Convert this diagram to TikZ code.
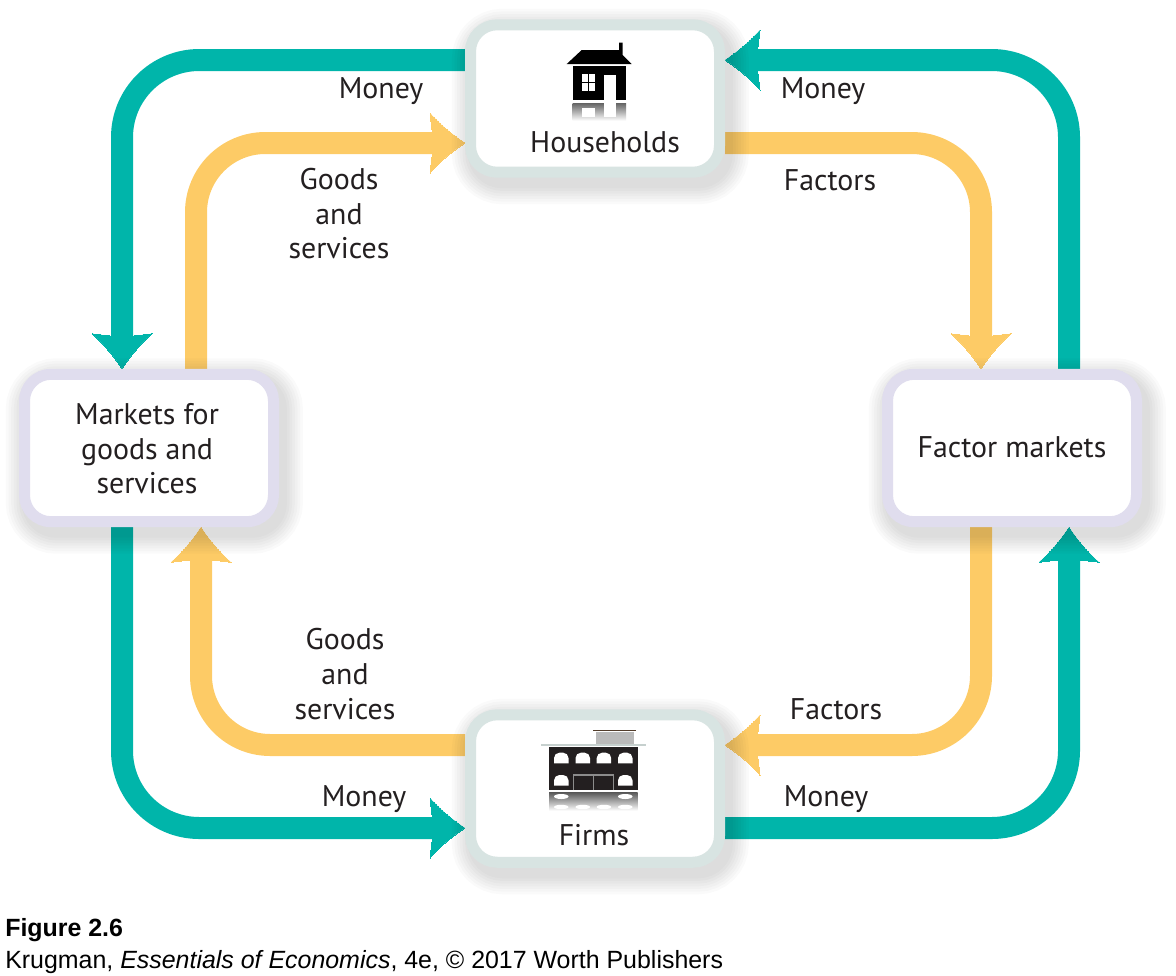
\documentclass[tikz,border=0pt]{standalone}
\usepackage{fontspec}
\setmainfont{PT Sans}
\newfontfamily\captionfont{Liberation Sans}
\usetikzlibrary{backgrounds,shadows,arrows.meta}

\definecolor{flowteal}{HTML}{00B5AA}
\definecolor{flowyellow}{HTML}{FDCB66}
\definecolor{boxgreen}{HTML}{D8E4E2}
\definecolor{boxlilac}{HTML}{E0DDEE}
\definecolor{inkblack}{HTML}{231F20}

\pgfdeclarearrow{
  name=Flowhead,
  setup code={
    \pgfarrowssettipend{0pt}
    \pgfarrowssetbackend{-26.25pt}
    \pgfarrowssetlineend{-20pt}
    \pgfarrowssetvisualbackend{-20pt}
    \pgfarrowshullpoint{0pt}{0pt}
    \pgfarrowshullpoint{-26.25pt}{22.5pt}
    \pgfarrowshullpoint{-26.25pt}{-22.5pt}
  },
  drawing code={
    \pgfsetlinewidth{0pt}
    \pgfpathmoveto{\pgfpoint{0pt}{0pt}}
    \pgfpathcurveto{\pgfpoint{-8.5pt}{5.5pt}}{\pgfpoint{-18.5pt}{13.5pt}}{\pgfpoint{-26.25pt}{22.5pt}}
    \pgfpathlineto{\pgfpoint{-24.5pt}{8.25pt}}
    \pgfpathlineto{\pgfpoint{-21pt}{0pt}}
    \pgfpathlineto{\pgfpoint{-24.5pt}{-8.25pt}}
    \pgfpathlineto{\pgfpoint{-26.25pt}{-22.5pt}}
    \pgfpathcurveto{\pgfpoint{-18.5pt}{-13.5pt}}{\pgfpoint{-8.5pt}{-5.5pt}}{\pgfpoint{0pt}{0pt}}
    \pgfpathclose
    \pgfusepathqfillstroke
  },
}

\tikzset{
  softlayer/.style={general shadow={draw=black,fill=none,opacity=0.02,line width=#1,shadow xshift=4pt,shadow yshift=-6pt}},
  marketbox/.style={
    softlayer=36pt,softlayer=32pt,softlayer=28pt,softlayer=24pt,softlayer=20pt,softlayer=16pt,softlayer=12pt,
    rectangle,rounded corners=20pt,draw=#1,fill=white,line width=8.25pt,
    minimum width=186.75pt,minimum height=110.6pt,text=inkblack,
    align=center,inner sep=0pt},
  flowlabel/.style={text=inkblack,align=center,inner sep=0pt,font=\fontsize{22.4}{25.9}\selectfont},
  moneyflow/.style={draw=flowteal,line width=16.5pt,rounded corners=58pt,-{Flowhead}},
  goodsflow/.style={draw=flowyellow,line width=16.5pt,rounded corners=52pt,-{Flowhead}},
  captionline/.style={anchor=base west,inner sep=0pt,text=black,font=\captionfont\fontsize{18.7}{20}\selectfont},
}

\begin{document}
\begin{tikzpicture}[x=0.75pt,y=-0.75pt]
    \useasboundingbox (0,0) rectangle (1176,975);

    % boxes
    \node[marketbox=boxgreen] (households) at (595,98.5) {};
    \node[marketbox=boxgreen] (firms) at (595,788.5) {};
    \node[marketbox=boxlilac] (goodsmarket) at (149,448) {};
    \node[marketbox=boxlilac] (factormarket) at (1012,448) {};

    % flows go under the boxes and their shadows
    \begin{scope}[on background layer]
        \draw[moneyflow] (households.west |- 0,60) -- (122,60) -- (goodsmarket.north -| 122,0);
        \draw[moneyflow] (goodsmarket.south -| 122,0) -- (122,828) -- (firms.west |- 0,828);
        \draw[moneyflow] (firms.east |- 0,828) -- (1069,828) -- (factormarket.south -| 1069,0);
        \draw[moneyflow] (factormarket.north -| 1069,0) -- (1069,60) -- (households.east |- 0,60);
        \draw[goodsflow] (goodsmarket.north -| 196,0) -- (196,143) -- (households.west |- 0,143);
        \draw[goodsflow] (firms.west |- 0,745) -- (201,745) -- (goodsmarket.south -| 201,0);
        \draw[goodsflow] (households.east |- 0,143) -- (981,143) -- (factormarket.north -| 981,0);
        \draw[goodsflow] (factormarket.south -| 981,0) -- (981,745) -- (firms.east |- 0,745);
    \end{scope}

    % box texts
    \node[flowlabel] (hhname) at (605,142) {Households};
    \node[flowlabel] (firmname) at (594,835) {Firms};
    \node[flowlabel] (goodsname) at (147,449) {Markets for\\goods and\\services};
    \node[flowlabel] (factorname) at (1012,447) {Factor markets};

    % flow labels
    \node[flowlabel] (moneya) at (381,91) {Money};
    \node[flowlabel] (moneyb) at (823,91) {Money};
    \node[flowlabel] (moneyc) at (364,799) {Money};
    \node[flowlabel] (moneyd) at (826,799) {Money};
    \node[flowlabel] (factorsa) at (830,180) {Factors};
    \node[flowlabel] (factorsb) at (836,709) {Factors};
    \node[flowlabel] (goodsa) at (339,214) {Goods\\and\\services};
    \node[flowlabel] (goodsb) at (345,674) {Goods\\and\\services};

    % house
    \fill[black] (566.7,64) -- (581.7,50) -- (619,50) -- (619,42.7) -- (622.7,42.7) -- (622.7,55) -- (631.7,64) -- cycle;
    \fill[black] (572.7,66) rectangle (626,100);
    \fill[white] (582.3,74) rectangle (595,90.7);
    \fill[black] (588,74) rectangle (589.3,90.7);
    \fill[black] (582.3,81.7) rectangle (595,83);
    \fill[white] (604,75) rectangle (616,100);
    \shade[top color=black!60,bottom color=white] (572.7,103.3) rectangle (626,120.7);
    \fill[white] (582.3,108) rectangle (595,116.7);
    \fill[white] (604,103.3) rectangle (616,116.7);

    % firm
    \draw[inkblack!70!brown,line width=0.8pt] (593,730.7) -- (636,730.7);
    \fill[black!27] (595.7,731.7) rectangle (634,744);
    \fill[boxgreen!80!gray] (540.7,743.5) rectangle (646,746);
    \fill[inkblack] (549,746.7) rectangle (637.7,790);
    \foreach \winx in {554,575.5,596.7,618} {
        \fill[white] (\winx,763.3) [rounded corners=4pt] -- (\winx,752.7) -- ++(14.5,0) [sharp corners] -- ++(0,10.6) -- cycle;
    }
    \foreach \winx in {554,618} {
        \fill[white] (\winx,785.7) [rounded corners=4pt] -- (\winx,775) -- ++(14.5,0) [sharp corners] -- ++(0,10.7) -- cycle;
    }
    \draw[black!45,line width=0.9pt] (573.3,790) -- (573.3,775) -- (613.3,775) -- (613.3,790);
    \draw[black!45,line width=0.5pt] (593.3,775) -- (593.3,790);
    \shade[top color=black!65,bottom color=white] (549,792.3) rectangle (637.7,810.7);
    \foreach \winx in {554,618} {
        \fill[white] (\winx+7.25,796.5) ellipse (7.25 and 2.5);
    }
    \foreach \winx in {554,575.5,596.7,618} {
        \fill[white] (\winx+7.25,807) ellipse (7.25 and 2.2);
    }

    % caption
    \node[captionline] (figno) at (5,936) {\bfseries Figure 2.6};
    \node[captionline] (figsource) at (5,968) {Krugman, \textit{Essentials of Economics}, 4e, © 2017 Worth Publishers};
\end{tikzpicture}
\end{document}
